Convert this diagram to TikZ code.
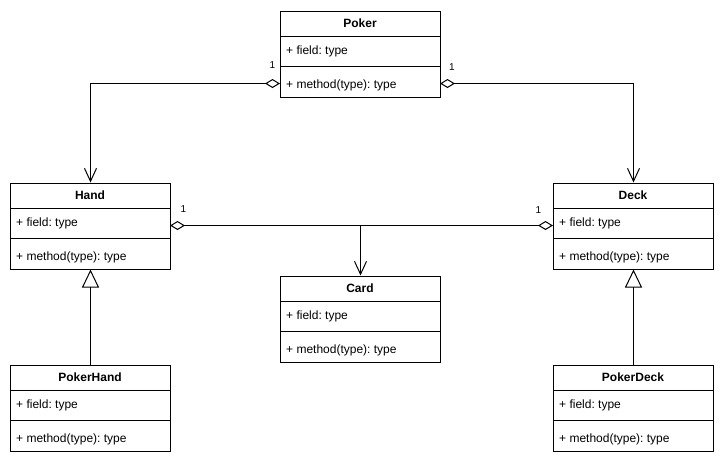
\documentclass[tikz,border=0pt]{standalone}
\usepackage{fontspec}
\setmainfont{Liberation Sans}
\usetikzlibrary{arrows.meta,calc}
\frenchspacing

% one UML class: #1 name, #2 left, #3 top, #4 title
\newcommand{\umlclass}[4]{%
  \node[classbox, anchor=north west] (#1) at (#2,#3) {};
  \draw[line] (#2,#3+26) -- (#2+160,#3+26);
  \draw[line] (#2,#3+56) -- (#2+160,#3+56);
  \node[titletext] (#1-title) at (#2+80,#3+17) {#4};
  \node[membertext] (#1-field) at (#2+6,#3+43.5) {+ field: type};
  \node[membertext] (#1-method) at (#2+6,#3+77.5) {+ method(type): type};
  \coordinate (#1-fw) at (#2,#3+43);
  \coordinate (#1-fe) at (#2+160,#3+43);
  \coordinate (#1-mw) at (#2,#3+73);
  \coordinate (#1-me) at (#2+160,#3+73);
}

\tikzset{
  line/.style={line width=1pt, draw=black},
  classbox/.style={line, fill=white, minimum width=160pt, minimum height=86pt, inner sep=0pt},
  titletext/.style={font=\fontsize{12}{14}\selectfont\bfseries, inner sep=0pt, anchor=base},
  membertext/.style={font=\fontsize{12}{14}\selectfont, inner sep=0pt, anchor=base west},
  multtext/.style={font=\fontsize{10}{12}\selectfont, inner sep=0pt, anchor=base},
  aggr/.style={line, {Diamond[open, length=15pt, width=9pt]}-{Straight Barb[length=13pt, width=12pt]}},
  aggrboth/.style={line, {Diamond[open, length=15pt, width=9pt]}-{Diamond[open, length=15pt, width=9pt]}},
  navig/.style={line, -{Straight Barb[length=13pt, width=12pt]}},
  inherit/.style={line, -{Triangle[open, length=18pt, width=17pt]}},
}

\begin{document}
\begin{tikzpicture}[x=1pt, y=-1pt]
  \fill[white] (0,0) rectangle (725,464);
  \useasboundingbox (0,0) rectangle (725,464);

  \umlclass{Poker}{280}{10.5}{Poker}
  \umlclass{Hand}{10}{182.5}{Hand}
  \umlclass{Deck}{553}{182.5}{Deck}
  \umlclass{Card}{280}{275.5}{Card}
  \umlclass{PokerHand}{10}{364.5}{PokerHand}
  \umlclass{PokerDeck}{553}{364.5}{PokerDeck}

  % Poker aggregates a Hand and a Deck
  \draw[aggr] (Poker-mw) -| (Hand.north);
  \draw[aggr] (Poker-me) -| (Deck.north);
  \node[multtext] (m1) at (272.5,68) {1};
  \node[multtext] (m2) at (452,70.5) {1};

  % Hand and Deck both hold Cards
  \draw[aggrboth] (Hand-fe) -- (Deck-fw);
  \coordinate (cardjoin) at (Hand-fe -| Card.north);
  \draw[navig] (cardjoin) -- (Card.north);
  \node[multtext] (m3) at (183.5,212) {1};
  \node[multtext] (m4) at (538.5,213.5) {1};

  % specialisations
  \draw[inherit] (PokerHand.north) -- (Hand.south);
  \draw[inherit] (PokerDeck.north) -- (Deck.south);
\end{tikzpicture}
\end{document}
